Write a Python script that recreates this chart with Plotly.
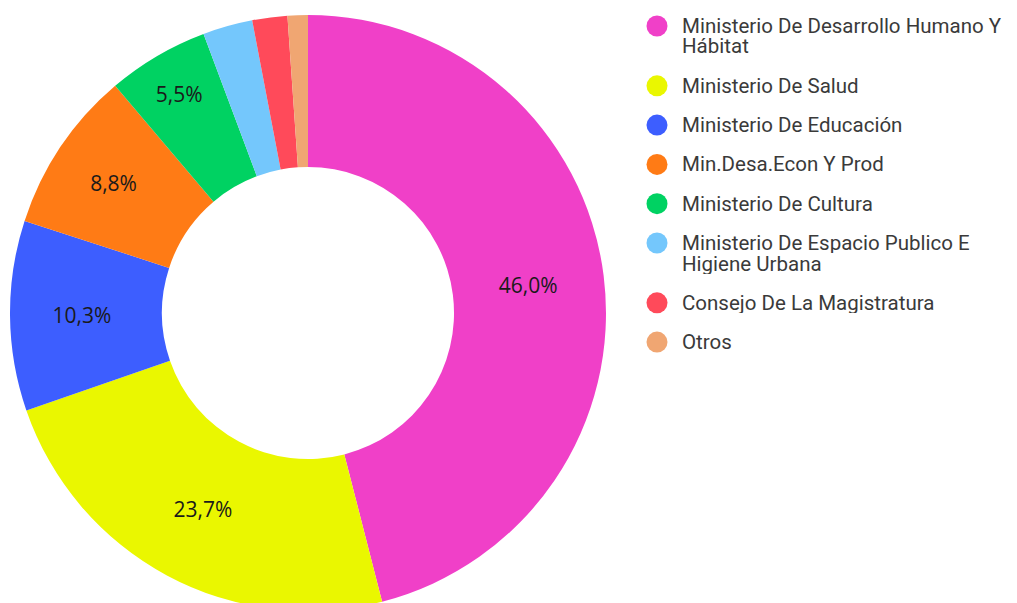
import plotly.graph_objects as go

# ---- data ----
labels = [
    "Ministerio De Desarrollo Humano Y\nHábitat",
    "Ministerio De Salud",
    "Ministerio De Educación",
    "Min.Desa.Econ Y Prod",
    "Ministerio De Cultura",
    "Ministerio De Espacio Publico E\nHigiene Urbana",
    "Consejo De La Magistratura",
    "Otros",
]
values = [46.0, 23.7, 10.3, 8.8, 5.5, 2.7, 1.9, 1.1]
colors = ["#F040C8", "#EAF700", "#3D5EFF", "#FF7B15", "#00D262",
          "#74C7FC", "#FF4A5A", "#F0A672"]
show_label = [True, True, True, True, True, False, False, False]

W, H = 1017, 603
OFF = 8  # page body margin

fig = go.Figure()
fig.add_trace(go.Pie(
    labels=[l.replace("\n", " ") for l in labels],
    values=values,
    marker=dict(colors=colors, line=dict(width=0)),
    hole=0.49,
    sort=False,
    direction="clockwise",
    rotation=0,
    texttemplate=["%{percent:.1%}" if s else "" for s in show_label],
    textposition="inside",
    insidetextorientation="horizontal",
    textfont=dict(family="Open Sans", size=21, color="#1a1a1a"),
    showlegend=False,
    domain=dict(x=[(10 - OFF) / W, (606 - OFF) / W], y=[0, 1 - (15 - OFF) / H]),
))

# ---- legend drawn as circles + text ----
shapes, annotations = [], []
y_px = 26.0
for lab, col in zip(labels, colors):
    cx = 657 - OFF
    cy = y_px - OFF
    shapes.append(dict(type="circle", xref="paper", yref="paper",
                       x0=(cx - 10.5) / W, x1=(cx + 10.5) / W,
                       y0=1 - (cy + 10.5) / H, y1=1 - (cy - 10.5) / H,
                       fillcolor=col, line=dict(width=0)))
    lines = lab.split("\n")
    for j, ln in enumerate(lines):
        annotations.append(dict(text=ln, xref="paper", yref="paper",
                                x=(681 - OFF) / W, y=1 - (cy + j * 20.5) / H,
                                xanchor="left", yanchor="middle", showarrow=False,
                                height=20, valign="middle", borderpad=0,
                                font=dict(family="Roboto", size=20.5, color="#3a3a3a")))
    y_px += 39.3 + 20.5 * (len(lines) - 1)

fig.update_layout(
    width=W, height=H,
    margin=dict(l=0, r=0, t=0, b=0),
    paper_bgcolor="white", plot_bgcolor="white",
    separators=",.",
    shapes=shapes, annotations=annotations,
)

fig.write_html("out.html")
